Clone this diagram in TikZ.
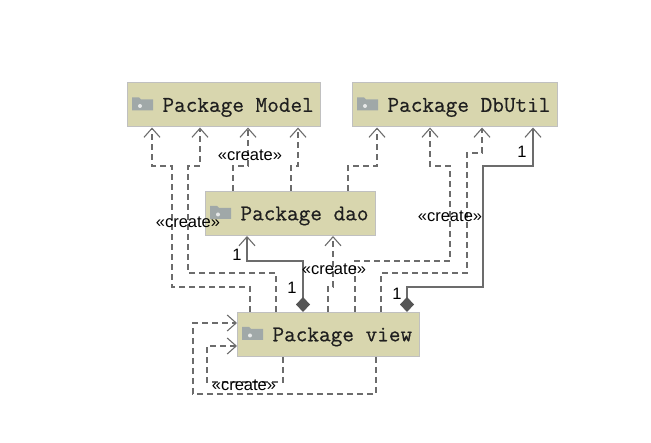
\documentclass[tikz,border=0pt]{standalone}
\usepackage{fontspec}
\newfontfamily\labelfont{Liberation Sans}
\newfontfamily\pkgfont{Latin Modern Mono}[FakeBold=0.6]
\usetikzlibrary{arrows.meta}

\definecolor{pkgfill}{RGB}{216,214,174}
\definecolor{pkgline}{RGB}{192,192,192}
\definecolor{linegray}{RGB}{108,108,108}
\definecolor{diamondgray}{RGB}{85,85,85}
\definecolor{icongray}{RGB}{160,168,168}

\newcommand{\pkgtext}[1]{\hspace*{28pt}\raisebox{-2.5pt}[\height][\depth]{#1}}

\begin{document}
\begin{tikzpicture}[x=1pt, y=-1pt,
		pkg/.style={fill=pkgfill, draw=pkgline, line width=1pt, anchor=west, minimum height=44pt, inner xsep=7pt, inner ysep=0pt, text=black!88, font=\fontsize{22.6}{24}\selectfont\pkgfont},
		dep/.style={draw=linegray, line width=1.1pt, dash pattern=on 6pt off 4pt, -{Straight Barb[length=9pt,width=16pt]}},
		comp/.style={draw=linegray, line width=1.1pt, {Diamond[length=15pt,width=14pt,color=diamondgray]}-{Straight Barb[length=9pt,width=16pt]}},
		lbl/.style={inner sep=0pt, text=black, font=\labelfont\fontsize{16.5}{17}\selectfont}]
	\useasboundingbox (0,0) rectangle (651,443);

	\node[pkg] (model) at (127,105) {\pkgtext{Package Model}};
	\node[pkg] (dbutil) at (352,105) {\pkgtext{Package DbUtil}};
	\node[pkg] (dao) at (205,213.5) {\pkgtext{Package dao}};
	\node[pkg] (view) at (237,334.5) {\pkgtext{Package view}};

	\foreach \pkgname in {model,dbutil,dao,view} {
		\begin{scope}[shift={(\pkgname.west)}]
			\fill[icongray] (5,-7.5) -- (12,-7.5) -- (14,-5.5) -- (26,-5.5) -- (26,5.5) -- (5,5.5) -- cycle;
			\fill[white!75!icongray] (13,1) circle (2);
		\end{scope}
	}

	\draw[dep] (250,0 |- view.north) |- (172,287) |- (152,166) -- (152,0 |- model.south);
	\draw[dep] (276,0 |- view.north) |- (188,273) |- (200,166) -- (200,0 |- model.south);
	\draw[dep] (233,0 |- dao.north) |- (248,166) -- (248,0 |- model.south);
	\draw[dep] (291,0 |- dao.north) |- (298,166) -- (298,0 |- model.south);

	\draw[dep] (348,0 |- dao.north) |- (377,166) -- (377,0 |- dbutil.south);
	\draw[dep] (355,0 |- view.north) |- (450,261) |- (430,166) -- (430,0 |- dbutil.south);
	\draw[dep] (381,0 |- view.north) |- (467,273) |- (482,153) -- (482,0 |- dbutil.south);
	\draw[comp] (407,0 |- view.north) |- (483,287) |- (533,166) -- (533,0 |- dbutil.south);

	\draw[comp] (303,0 |- view.north) |- (247,261) -- (247,0 |- dao.south);
	\draw[dep] (328,0 |- view.north) |- (333,287) -- (333,0 |- dao.south);

	\draw[dep] (376,0 |- view.south) |- (193,394) |- (view.west |- 0,323);
	\draw[dep] (283,0 |- view.south) |- (207,382) |- (view.west |- 0,346);

	\node[lbl] (createmodel) at (250,155) {«create»};
	\node[lbl] (createview) at (188,222) {«create»};
	\node[lbl] (createdbutil) at (450,216) {«create»};
	\node[lbl] (createdao) at (334,269) {«create»};
	\node[lbl] (createself) at (244,385) {«create»};

	\node[lbl] (onedbutil) at (522,152) {1};
	\node[lbl] (onedao) at (237,255) {1};
	\node[lbl] (oneviewdao) at (292,288) {1};
	\node[lbl] (oneviewdbutil) at (397,294) {1};
\end{tikzpicture}
\end{document}
